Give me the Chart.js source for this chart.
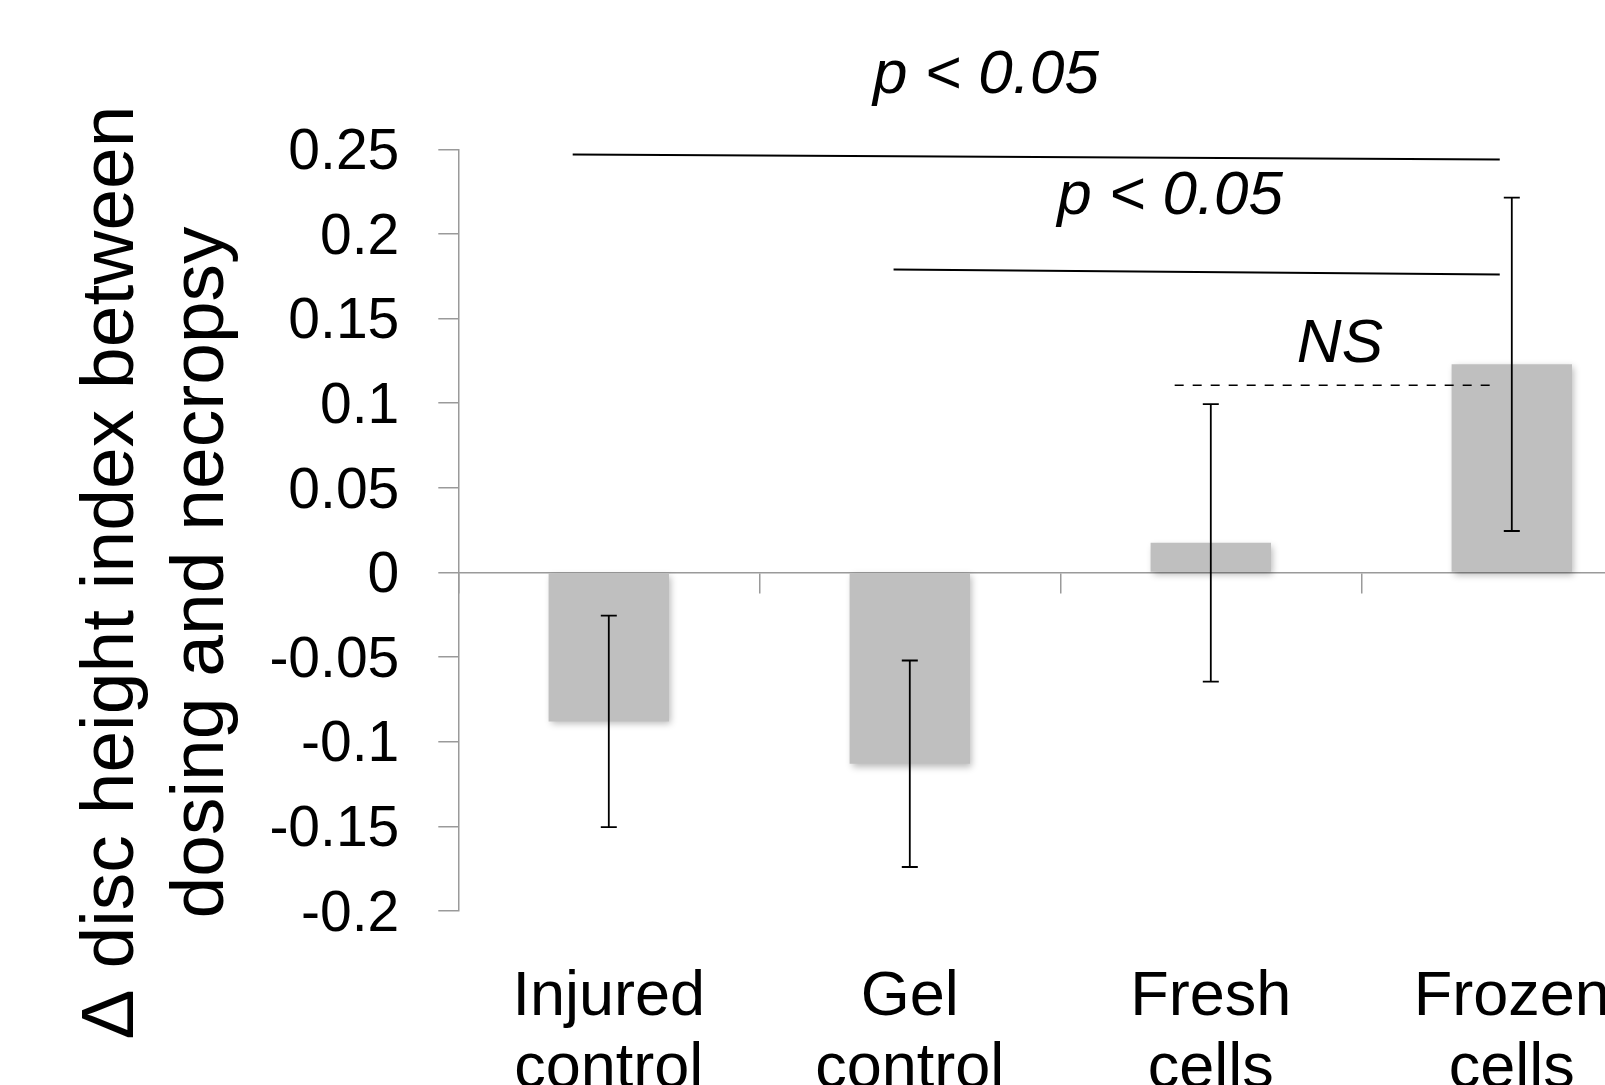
<!DOCTYPE html>
<html>
<head>
<meta charset="utf-8">
<script src="https://cdn.jsdelivr.net/npm/chart.js@4.4.1/dist/chart.umd.min.js"></script>
<style>
  html, body { margin: 0; padding: 0; background: #fff; overflow: hidden; }
  .chart { position: absolute; left: 0; top: 0; width: 1700px; height: 1150px; }
</style>
</head>
<body>
<div class="chart"><canvas id="discChart"></canvas></div>
<script>
// values
const groups = [['Injured', 'control'], ['Gel', 'control'], ['Fresh', 'cells'], ['Frozen', 'cells']];
const meanChange = [-0.088, -0.113, 0.0175, 0.123];
const errSize = [0.0625, 0.061, 0.082, 0.0985];
const yRange = [-0.2, 0.25];
const yStep = 0.05;
const yTitle = ['\u0394 disc height index between', 'dosing and necropsy'];

// significance brackets: category index (fractional) and y value
const sigLines = [
  { from: -0.12, to: 2.96, y1: 0.247, y2: 0.244, dashed: false },
  { from: 0.946, to: 2.96, y1: 0.179, y2: 0.176, dashed: false },
  { from: 1.88, to: 2.94, y1: 0.1106, y2: 0.1106, dashed: true }
];
const sigLabels = [
  { text: 'p < 0.05', x: 1.253, y: 0.283 },
  { text: 'p < 0.05', x: 1.865, y: 0.212 },
  { text: 'NS', x: 2.429, y: 0.1245 }
];

const FONT = "'Liberation Sans', Helvetica, Arial, sans-serif";
const AXIS_GRAY = '#9a9a9a';

const barShadow = {
  id: 'barShadow',
  beforeDatasetsDraw(chart) {
    const ctx = chart.ctx;
    ctx.save();
    ctx.shadowColor = 'rgba(0,0,0,0.28)';
    ctx.shadowBlur = 7;
    ctx.shadowOffsetX = 2;
    ctx.shadowOffsetY = 3;
  },
  afterDatasetsDraw(chart) {
    const ctx = chart.ctx;
    ctx.restore();
    // error bars
    const y = chart.scales.y;
    const meta = chart.getDatasetMeta(0);
    ctx.save();
    ctx.strokeStyle = '#000';
    ctx.lineWidth = 1.8;
    meta.data.forEach((bar, i) => {
      const top = y.getPixelForValue(meanChange[i] + errSize[i]);
      const bot = y.getPixelForValue(meanChange[i] - errSize[i]);
      ctx.beginPath();
      ctx.moveTo(bar.x, top); ctx.lineTo(bar.x, bot);
      ctx.moveTo(bar.x - 8, top); ctx.lineTo(bar.x + 8, top);
      ctx.moveTo(bar.x - 8, bot); ctx.lineTo(bar.x + 8, bot);
      ctx.stroke();
    });
    ctx.restore();
  }
};

const annotations = {
  id: 'annotations',
  afterDraw(chart) {
    const ctx = chart.ctx;
    const x = chart.scales.x;
    const y = chart.scales.y;
    ctx.save();
    ctx.strokeStyle = '#000';
    sigLines.forEach(l => {
      ctx.lineWidth = l.dashed ? 1.6 : 2;
      ctx.setLineDash(l.dashed ? [9, 9] : []);
      ctx.beginPath();
      ctx.moveTo(x.getPixelForValue(l.from), y.getPixelForValue(l.y1));
      ctx.lineTo(x.getPixelForValue(l.to), y.getPixelForValue(l.y2));
      ctx.stroke();
    });
    ctx.setLineDash([]);
    ctx.fillStyle = '#000';
    ctx.textAlign = 'center';
    ctx.textBaseline = 'alphabetic';
    ctx.font = 'italic 62px ' + FONT;
    sigLabels.forEach(t => {
      ctx.fillText(t.text, x.getPixelForValue(t.x), y.getPixelForValue(t.y));
    });

    // rotated axis title, centred on the zero line
    ctx.font = '75px ' + FONT;
    ctx.translate(132.7, y.getPixelForValue(0));
    ctx.rotate(-Math.PI / 2);
    ctx.fillText(yTitle[0], 0, 0);
    ctx.fillText(yTitle[1], 0, 90.3);
    ctx.restore();
  }
};

const ctx = document.getElementById('discChart');
const myChart = new Chart(ctx, {
  type: 'bar',
  data: {
    labels: groups,
    datasets: [{
      data: meanChange,
      backgroundColor: '#bfbfbf',
      borderWidth: 0,
      barPercentage: 0.4,
      categoryPercentage: 1
    }]
  },
  options: {
    responsive: true,
    maintainAspectRatio: false,
    animation: false,
    layout: { padding: { top: 149.3, right: 37.7, left: 0, bottom: 0 } },
    plugins: {
      legend: { display: false },
      tooltip: { enabled: false }
    },
    scales: {
      x: {
        position: 'bottom',
        border: { display: false },
        grid: { display: false, drawTicks: false },
        ticks: {
          color: '#000',
          padding: 50,
          maxRotation: 0,
          font: { family: FONT, size: 63, lineHeight: 1.15 }
        },
        afterFit: s => { s.height = 239; }
      },
      xZero: {
        type: 'category',
        position: { y: 0 },
        offset: true,
        border: { display: true, color: AXIS_GRAY, width: 1.5 },
        grid: { offset: true, drawOnChartArea: false, drawTicks: true, tickLength: 20, color: AXIS_GRAY, lineWidth: 1.5 },
        ticks: { display: false }
      },
      y: {
        min: yRange[0],
        max: yRange[1],
        border: { display: true, color: AXIS_GRAY, width: 1.5 },
        grid: { drawOnChartArea: false, drawTicks: true, tickLength: 20, color: AXIS_GRAY, lineWidth: 1.5 },
        ticks: {
          stepSize: yStep,
          color: '#000',
          padding: 39,
          labelOffset: 4,
          font: { family: FONT, size: 57 },
          callback: v => String(parseFloat(v.toFixed(2)))
        },
        afterFit: s => { s.width = 458.3; }
      }
    }
  },
  plugins: [barShadow, annotations]
});
</script>
</body>
</html>
